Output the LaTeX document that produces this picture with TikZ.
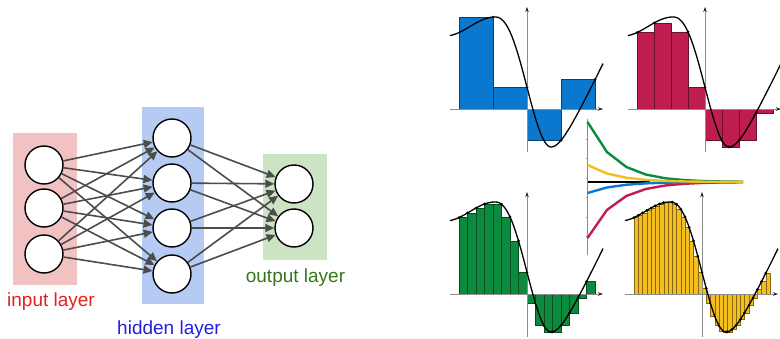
\documentclass[tikz,border=0pt]{standalone}
\usepackage{fontspec}
\setmainfont{Liberation Sans}
\usepackage{tikz}
\usetikzlibrary{arrows.meta,calc}
\definecolor{inbox}{HTML}{F2C2C2}
\definecolor{hidbox}{HTML}{B6CBF4}
\definecolor{outbox}{HTML}{CCE3C4}
\definecolor{intext}{HTML}{E3211E}
\definecolor{hidtext}{HTML}{2020E0}
\definecolor{outtext}{HTML}{38761D}
\definecolor{sumblue}{HTML}{0B78CF}
\definecolor{sumred}{HTML}{BF1D4F}
\definecolor{sumgreen}{HTML}{0C8A3E}
\definecolor{sumyellow}{HTML}{F4BE1E}
\tikzset{
  declare function={fc(\t)=(\t<-32) ? (82.5+9.5*cos(3.6*(\t+32))) : ((\t<24) ? (27+65*cos(180*(max((\t+32)/56,0.001))^1.15)) : (-38+2.1*(sqrt((\t-24)^2+201.64)-14.2)));},
  neuron/.style={circle,draw,line width=1.4pt,fill=white,minimum size=38pt,inner sep=0pt},
  wire/.style={draw=black!70,line width=1.6pt,-{Triangle[length=9pt,width=8pt]}},
  layertext/.style={font=\fontsize{19}{22}\selectfont,anchor=base,inner sep=0pt},
  plotaxis/.style={draw=black!45,line width=0.7pt,-{Stealth[length=5pt,width=3.5pt,color=black!85]}},
  trend/.style={line width=2.4pt,line join=round}
}
\newcommand{\sumplot}[4]{%
  \begin{scope}[shift={#1},yscale=-1]
    \pgfmathsetmacro\bw{136/#2}
    \foreach \k in {1,...,#2}{
      \pgfmathsetmacro\xa{-68+(\k-1)*\bw}
      \pgfmathsetmacro\xb{\xa+\bw}
      \pgfmathsetmacro\hh{#4==1 ? fc(\xb) : min(fc(\xa),fc(\xb),(((\xa<24)&&(\xb>24)) ? -38 : 200))}
      \pgfmathsetmacro\xm{#4==1 ? \xb : (((\xa<24)&&(\xb>24)) ? 24 : ((fc(\xa)<fc(\xb)) ? \xa : \xb))}
      \filldraw[fill=#3,draw=#3!55!black,line width=0.5pt] (\xa,0) rectangle (\xb,\hh);
      \fill (\xm,\hh) circle (1.5pt);
    }
    \draw[plotaxis] (-77,0) -- (76,0);
    \draw[plotaxis] (0,-43) -- (0,102);
    \draw[line width=1.3pt,domain=-77:76,samples=120,smooth,variable=\u] plot ({\u},{fc(\u)});
  \end{scope}}
\begin{document}
\begin{tikzpicture}[x=1pt,y=-1pt]
\useasboundingbox (0,0) rectangle (780,339);
\fill[inbox] (13,133) rectangle (77,285);
\fill[hidbox] (142,107) rectangle (204,304);
\fill[outbox] (263,154) rectangle (327,260);
\foreach \i/\y in {1/165,2/208,3/254} \node[neuron] (in\i) at (44,\y) {};
\foreach \i/\y in {1/138,2/183,3/228,4/274} \node[neuron] (hid\i) at (172,\y) {};
\foreach \i/\y in {1/184,2/228} \node[neuron] (out\i) at (294,\y) {};
\foreach \i in {1,2,3} \foreach \j in {1,...,4} \draw[wire] (in\i) -- (hid\j);
\foreach \i in {1,...,4} \foreach \j in {1,2} \draw[wire] (hid\i) -- (out\j);
\node[layertext,text=intext] (intitle) at (51,307) {input layer};
\node[layertext,text=hidtext] (hidtitle) at (169,335) {hidden layer};
\node[layertext,text=outtext] (outtitle) at (295.5,283) {output layer};
\sumplot{(527,109)}{4}{sumblue}{1}
\sumplot{(705,109)}{8}{sumred}{0}
\sumplot{(527,294)}{16}{sumgreen}{0}
\sumplot{(702,294)}{32}{sumyellow}{0}
\draw[black!45,line width=0.7pt] (587.5,119) -- (587.5,255);
\foreach \ty in {139,158,178,197,217,236} \draw[black!45,line width=0.7pt] (585.5,\ty) -- (587.5,\ty);
\draw[trend,black] (587.5,182) -- (650,182);
\foreach \dd/\col in {-60/sumgreen,56/sumred,11/sumblue,-17/sumyellow}
  \draw[trend,\col,domain=587.5:743,samples=9,variable=\u] plot ({\u},{182+\dd*exp(-(\u-587.5)/28)});
\end{tikzpicture}
\end{document}
